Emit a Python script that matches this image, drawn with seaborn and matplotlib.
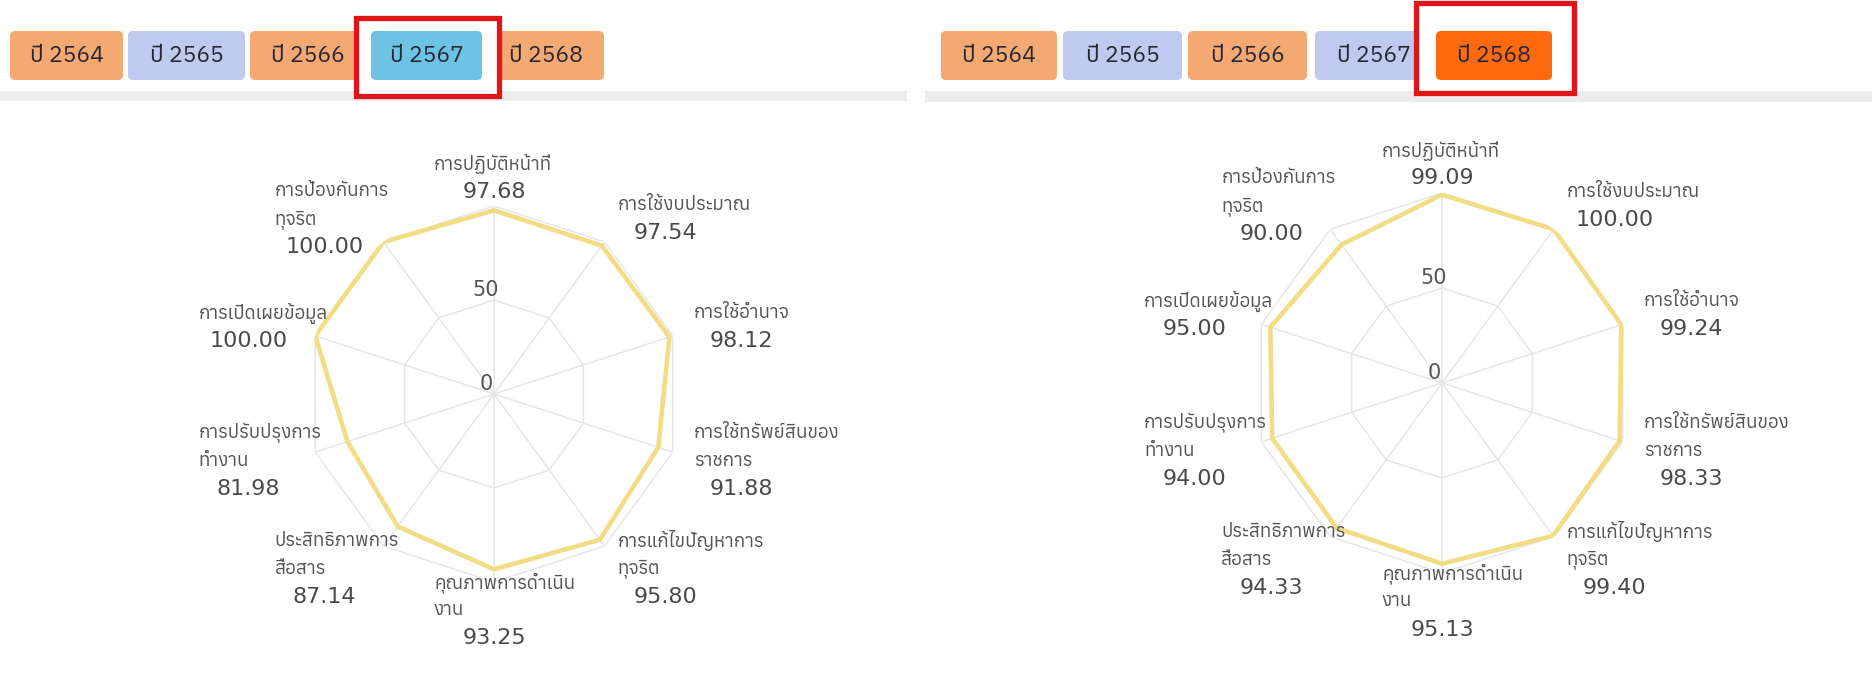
import numpy as np
import matplotlib
matplotlib.use("Agg")
import matplotlib.pyplot as plt
from matplotlib.patches import FancyBboxPatch, Rectangle
import seaborn as sns
from matplotlib import font_manager

# ---------------- data ----------------
categories = [
    ["การปฏิบัติหน้าที่"],
    ["การใช้งบประมาณ"],
    ["การใช้อำนาจ"],
    ["การใช้ทรัพย์สินของ", "ราชการ"],
    ["การแก้ไขปัญหาการ", "ทุจริต"],
    ["คุณภาพการดำเนิน", "งาน"],
    ["ประสิทธิภาพการ", "สื่อสาร"],
    ["การปรับปรุงการ", "ทำงาน"],
    ["การเปิดเผยข้อมูล"],
    ["การป้องกันการ", "ทุจริต"],
]
scores_2567 = [97.68, 97.54, 98.12, 91.88, 95.80, 93.25, 87.14, 81.98, 100.00, 100.00]
scores_2568 = [99.09, 100.00, 99.24, 98.33, 99.40, 95.13, 94.33, 94.00, 95.00, 90.00]
years = ["ปี 2564", "ปี 2565", "ปี 2566", "ปี 2567", "ปี 2568"]
radial_ticks = [0, 50, 100]
radial_tick_labels = ["0", "50"]

# ---------------- font detection (Thai glyphs) ----------------
thai_font = None
try:
    from fontTools.ttLib import TTFont
    cands = []
    for f in font_manager.fontManager.ttflist:
        try:
            tt = TTFont(f.fname, fontNumber=0, lazy=True)
            cm = tt.getBestCmap()
            if cm and 0x0E01 in cm and 0x0E1B in cm and 0x0E35 in cm:
                cands.append(f.name)
        except Exception:
            pass
    if cands:
        thai_font = sorted(set(cands))[0]
except Exception:
    pass

sns.set_theme(style="white")
fam = ([thai_font] if thai_font else []) + ["DejaVu Sans"]
plt.rcParams["font.family"] = fam
NUMFAM = ["DejaVu Sans"]

W, H = 1872, 675
fig = plt.figure(figsize=(W / 100, H / 100), dpi=100)
fig.patch.set_facecolor("white")

# overlay axes in pixel coordinates
ov = fig.add_axes([0, 0, 1, 1])
ov.set_xlim(0, W)
ov.set_ylim(H, 0)
ov.axis("off")
ov.set_zorder(5)

GRID = "#E6E6E6"
LINE = "#F3DD84"
ORANGE = "#F4A872"
LAV = "#BFCAEE"


def tabs(x_starts, widths, sel, sel_color, others, box):
    for k, (x0, w) in enumerate(zip(x_starts, widths)):
        if k == sel:
            continue
        ov.add_patch(FancyBboxPatch((x0, 31), w, 49, boxstyle="round,pad=0,rounding_size=5",
                                    fc=others[k], ec="none", zorder=1))
        ov.text(x0 + w / 2, 56, years[k], ha="center", va="center", fontsize=16.5,
                color="#262633", zorder=2)
    bx0, by0, bx1, by1 = box
    ov.add_patch(Rectangle((bx0, by0), bx1 - bx0, by1 - by0, fc="white", ec="#E0151A",
                           lw=3.8, zorder=3))
    x0, w = x_starts[sel], widths[sel]
    ov.add_patch(FancyBboxPatch((x0, 31), w, 49, boxstyle="round,pad=0,rounding_size=5",
                                fc=sel_color, ec="none", zorder=4))
    ov.text(x0 + w / 2, 56, years[sel], ha="center", va="center", fontsize=16.5,
            color="#262633", zorder=5)


tabs([10, 128, 250, 371, 488], [113, 117, 115, 111, 116], 3, "#6EC3E4",
     [ORANGE, LAV, ORANGE, LAV, ORANGE], (356, 18, 499, 96))
tabs([941, 1063, 1188, 1315, 1436], [116, 119, 119, 117, 116], 4, "#FF6A0E",
     [ORANGE, LAV, ORANGE, LAV, ORANGE], (1416, 3, 1574, 93))

# gray separator bars
ov.add_patch(Rectangle((0, 91), 907, 10, fc="#ECECEC", ec="none", zorder=0))
ov.add_patch(Rectangle((925, 91), W - 925, 11, fc="#ECECEC", ec="none", zorder=0))

n = len(categories)
theta = np.arange(n) * 2 * np.pi / n
theta_c = np.append(theta, 2 * np.pi)


def radar(cx, cy, R, values):
    ax = fig.add_axes([(cx - R) / W, (H - cy - R) / H, 2 * R / W, 2 * R / H], projection="polar")
    ax.set_theta_zero_location("N")
    ax.set_theta_direction(-1)
    ax.set_ylim(0, 100)
    ax.set_facecolor("none")
    ax.spines["polar"].set_visible(False)
    ax.set_xticks(theta)
    ax.set_xticklabels([])
    ax.set_yticks([])
    ax.xaxis.grid(True, color=GRID, lw=1.1)
    ax.yaxis.grid(False)
    for r in radial_ticks[1:]:
        ax.plot(theta_c, [r] * len(theta_c), color=GRID, lw=1.1, zorder=1)
    vc = list(values) + [values[0]]
    sns.lineplot(x=theta_c, y=vc, sort=False, estimator=None, ax=ax, color=LINE,
                 lw=3.3, zorder=3, legend=False)
    ax.set_xlabel("")
    ax.set_ylabel("")
    # radial tick labels
    for t, lab in zip(radial_ticks, radial_tick_labels):
        ov.text(cx - 8, cy - t * R / 100 - 10, lab, ha="center", va="center",
                fontsize=15, color="#555555", family=NUMFAM)
    # point labels
    Rx, Ry, L = 1.117 * R, 1.15 * R, 28
    for i, (lines, v) in enumerate(zip(categories, values)):
        s, c = np.sin(theta[i]), np.cos(theta[i])
        ay = cy - Ry * c
        allines = lines + [f"{v:.2f}"]
        m = len(allines)
        if abs(s) < 0.1:
            left = cx - 60
            vx = cx
        elif s > 0:
            left = cx + Rx * s
            vx = left + 48
        else:
            left = cx + Rx * s - 96
            vx = left + 50
        for k, txt in enumerate(allines):
            y = ay - (m - 1) * L / 2 + k * L
            if k < m - 1:
                ov.text(left, y, txt, ha="left", va="center", fontsize=13.5, color="#555555")
            else:
                ov.text(vx, y, txt, ha="center", va="center", fontsize=16, color="#4a4a4a",
                        family=NUMFAM)


radar(494, 394, 188, scores_2567)
radar(1442, 383, 190, scores_2568)

fig.savefig("out.png", dpi=100, facecolor="white")
